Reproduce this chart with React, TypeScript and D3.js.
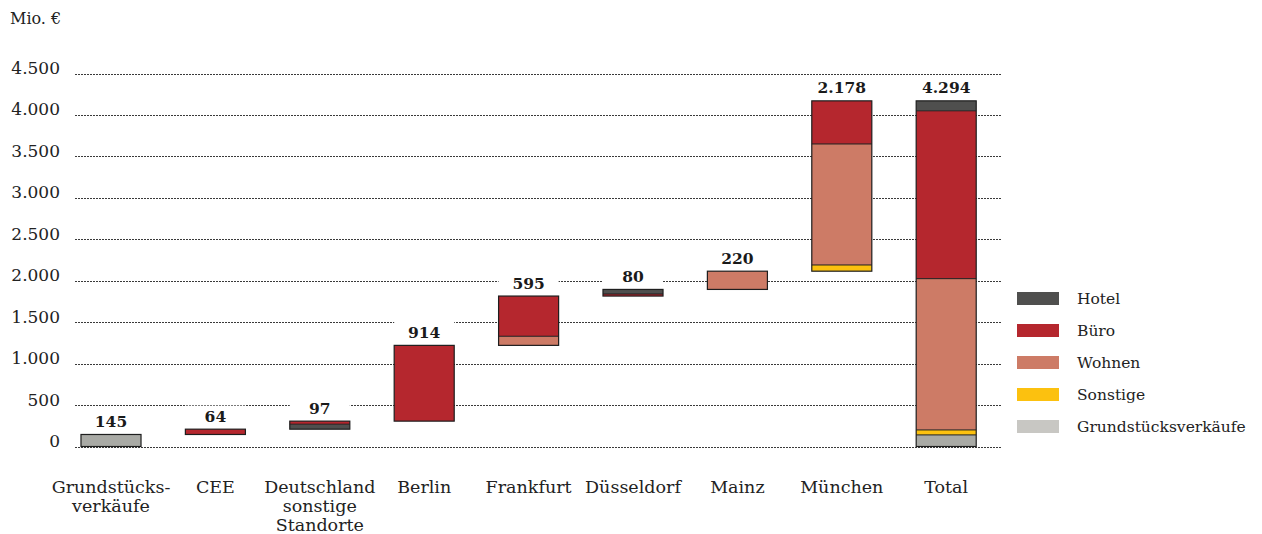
import React from 'react'
import * as d3 from 'd3'

const width = 1262
const height = 534

// x categories (one entry per line of the label)
const categories = [
  ['Grundstücks-', 'verkäufe'],
  ['CEE'],
  ['Deutschland', 'sonstige', 'Standorte'],
  ['Berlin'],
  ['Frankfurt'],
  ['Düsseldorf'],
  ['Mainz'],
  ['München'],
  ['Total']
]
const valueLabels = ['145', '64', '97', '914', '595', '80', '220', '2.178', '4.294']

const seriesNames = ['Hotel', 'Büro', 'Wohnen', 'Sonstige', 'Grundstücksverkäufe']
const hotel = [0, 0, 60, 0, 0, 55, 0, 0, 120]
const buero = [0, 64, 37, 914, 485, 25, 0, 520, 2025]
const wohnen = [0, 0, 0, 0, 110, 0, 220, 1460, 1825]
const sonstige = [0, 0, 0, 0, 0, 0, 0, 75, 60]
const grund = [145, 0, 0, 0, 0, 0, 0, 0, 140]

const yTicks = [0, 500, 1000, 1500, 2000, 2500, 3000, 3500, 4000, 4500]

const colors: Record<string, string> = {
  Hotel: '#4f4f4e',
  Büro: '#b5272e',
  Wohnen: '#cd7b66',
  Sonstige: '#fcc10f',
  Grundstücksverkäufe: '#a9aaa5'
}
const legendColors: Record<string, string> = { ...colors, Grundstücksverkäufe: '#c8c7c3' }

const valuesBySeries: Record<string, number[]> = {
  Hotel: hotel,
  Büro: buero,
  Wohnen: wohnen,
  Sonstige: sonstige,
  Grundstücksverkäufe: grund
}

const defaultOrder = ['Grundstücksverkäufe', 'Sonstige', 'Wohnen', 'Büro', 'Hotel']
// Deutschland sonstige Standorte has the hotel part at the bottom
const orderFor = (i: number) => (i === 2 ? ['Hotel', 'Büro'] : defaultOrder)

const font = 'DejaVu Serif'
const fmt = d3.formatLocale({ decimal: ',', thousands: '.', grouping: [3], currency: ['', '€'] }).format(',')

const App = () => {
  const x = d3
    .scaleBand<number>()
    .domain(categories.map((_, i) => i))
    .range([58.8, 998.4])
    .paddingInner(0.425)
    .paddingOuter(0.2125)

  const y = d3.scaleLinear().domain([0, 4500]).range([446.5, 73.5])

  const last = categories.length - 1
  let running = 0
  const bars = categories.map((_, i) => {
    const base = i === last ? 0 : running
    let acc = base
    const segs = orderFor(i)
      .map(name => {
        const v = valuesBySeries[name][i]
        const seg = { name, y0: acc, y1: acc + v }
        acc += v
        return seg
      })
      .filter(s => s.y1 > s.y0)
    if (i !== last) running = acc
    return { i, base, top: acc, segs }
  })

  const bw = x.bandwidth()

  return (
    <svg width={width} height={height} style={{ position: 'absolute', left: 0, top: 0 }} fontFamily={font}>
      <rect width={width} height={height} fill="#fff" />
      <text x={10} y={24} fontSize={16} fill="#222">
        Mio. €
      </text>

      {yTicks.map(t => (
        <g key={t}>
          <line x1={75} x2={1002} y1={Math.round(y(t)) + 0.5} y2={Math.round(y(t)) + 0.5} stroke="#3a3a3a" strokeDasharray="2 1" />
          <text x={60} y={y(t) + 0.5} textAnchor="end" fontSize={17} fill="#222">
            {fmt(t)}
          </text>
        </g>
      ))}

      {bars.map(b => (
        <rect key={'bg' + b.i} x={x(b.i)} y={y(b.top) - 23.5} width={bw} height={23.5} fill="#fff" />
      ))}

      {bars.map(b => (
        <g key={b.i}>
          {b.segs.map(s => (
            <rect key={s.name} x={x(b.i)} y={y(s.y1)} width={bw} height={y(s.y0) - y(s.y1)} fill={colors[s.name]} />
          ))}
          {b.segs.slice(1).map(s => (
            <line key={'l' + s.name} x1={x(b.i)} x2={x(b.i)! + bw} y1={y(s.y0)} y2={y(s.y0)} stroke="#1e1e1e" strokeWidth={1} />
          ))}
          <rect x={x(b.i)} y={y(b.top)} width={bw} height={y(b.base) - y(b.top)} fill="none" stroke="#1e1e1e" strokeWidth={1.2} />
          <text x={x(b.i)! + bw / 2} y={y(b.top) - 7.5} textAnchor="middle" fontSize={15.5} fontWeight="bold" fill="#1a1a1a">
            {valueLabels[b.i]}
          </text>
        </g>
      ))}

      {categories.map((lines, i) => (
        <text key={i} x={x(i)! + bw / 2} textAnchor="middle" fontSize={17.5} fill="#222">
          {lines.map((l, j) => (
            <tspan key={j} x={x(i)! + bw / 2} y={493 + j * 19}>
              {l}
            </tspan>
          ))}
        </text>
      ))}

      {seriesNames.map((name, k) => (
        <g key={name} transform={`translate(1017, ${292 + k * 32})`}>
          <rect width={42} height={13} fill={legendColors[name]} />
          <text x={60} y={12} fontSize={15.5} fill="#222">
            {name}
          </text>
        </g>
      ))}
    </svg>
  )
}

export default App
